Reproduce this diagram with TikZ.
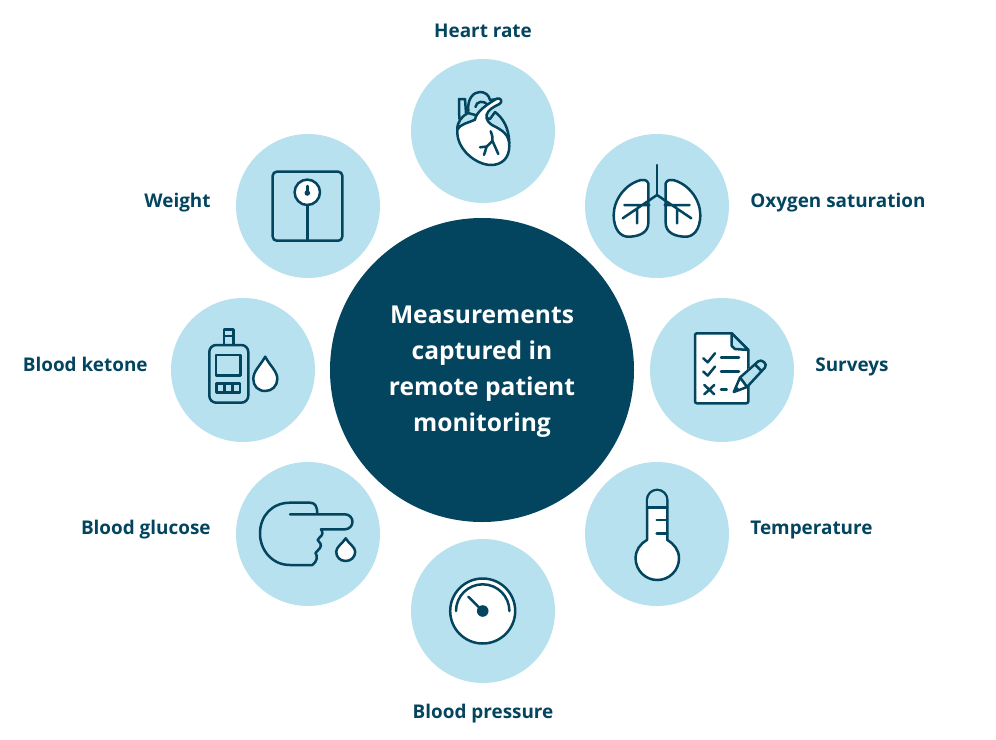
\documentclass[tikz,border=0pt]{standalone}
\usepackage{fontspec}
\setmainfont{Open Sans}
\usetikzlibrary{positioning}
\definecolor{deepteal}{HTML}{03455F}
\definecolor{paleblue}{HTML}{B7E1EE}
\tikzset{
  bubble/.style={circle,fill=paleblue,minimum size=144pt,inner sep=0pt},
  hub/.style={circle,fill=deepteal,minimum size=304pt,inner sep=0pt,align=center,text=white,font=\fontsize{24.6}{36}\selectfont\bfseries},
  tag/.style={inner sep=0pt,text=deepteal,text height=14pt,text depth=4pt,font=\fontsize{18.9}{24}\selectfont\bfseries},
  glyph/.style={draw=deepteal,line width=2.5pt,line join=round,line cap=round},
}
\begin{document}
\begin{tikzpicture}[x=1pt,y=-1pt]
\useasboundingbox (0,0) rectangle (996,739);
\node[hub]    (centre)  at (482,370) {\raisebox{-5pt}{\begin{tabular}{@{}c@{}}Measurements\\captured in\\remote patient\\monitoring\end{tabular}}};
\node[bubble] (heart)   at (483,131) {};
\node[bubble] (oxygen)  at (657,206) {};
\node[bubble] (surveys) at (722,370) {};
\node[bubble] (temp)    at (657,534) {};
\node[bubble] (press)   at (483,611) {};
\node[bubble] (glucose) at (308,534) {};
\node[bubble] (ketone)  at (243,370) {};
\node[bubble] (weight)  at (308,206) {};
\node[tag,above=17pt of heart]                (heartlab)   {Heart rate};
\node[tag,right=21pt of oxygen,yshift=4pt]    (oxygenlab)  {Oxygen saturation};
\node[tag,right=21pt of surveys,yshift=4pt]   (surveyslab) {Surveys};
\node[tag,right=21pt of temp,yshift=5pt]      (templab)    {Temperature};
\node[tag,below=21pt of press]                (presslab)   {Blood pressure};
\node[tag,left=25pt of glucose,yshift=5pt]    (glucoselab) {Blood glucose};
\node[tag,left=23pt of ketone,yshift=4pt]     (ketonelab)  {Blood ketone};
\node[tag,left=25pt of weight,yshift=4pt]     (weightlab)  {Weight};
% heart
\draw[glyph] (466,113) -- (465,99) -- (459,99) -- (459.3,119);
\draw[glyph] (468.3,111.3) .. controls (467,98) and (474,92) .. (480,92) .. controls (485,92) and (489,95) .. (490,100) -- (498,99);
\draw[glyph] (475.5,107) .. controls (476,101) and (484,100) .. (488,105);
\draw[glyph,fill=paleblue] (457.3,129.7) .. controls (457,122) and (462,116) .. (468,113) -- (490,119) -- (495,112) .. controls (503,118) and (509,128) .. (509.3,143) -- cycle;
\draw[glyph,fill=white] (457.3,129.7) .. controls (460,124) and (468,123) .. (475,119.7) .. controls (476,112) and (486,105) .. (496.7,98.7) .. controls (501,97) and (503,102) .. (499.5,104) .. controls (493,107) and (488,110) .. (486.5,115) .. controls (486,120) and (489,123) .. (492,125) .. controls (502,130) and (509.3,134) .. (509.3,146) .. controls (509.3,158) and (502,165) .. (491,165) .. controls (477,165) and (456,150) .. (457.3,129.7) -- cycle;
\draw[glyph] (490.7,131.3) .. controls (492,135) and (493,138) .. (492.5,141) (492.5,141) -- (486.7,146.5) -- (484,155) (486.7,146.5) -- (480,147.3) (492.5,141) -- (498.3,154);
% lungs
\foreach \flip in {1,-1}{
  \begin{scope}[xshift=657pt,xscale=\flip]
  \draw[glyph,fill=white] (-8.7,183.3) .. controls (-10,180) and (-13,179.5) .. (-16,180) .. controls (-32,184) and (-43.3,200) .. (-43.3,215) .. controls (-43.3,230) and (-36,236.7) .. (-29,236.7) .. controls (-17,236.7) and (-8.7,232) .. (-8.7,223) -- cycle;
  \draw[glyph] (0,195) -- (-34.3,218.3) (-32.7,205) -- (-7.7,205) (-20,208.3) -- (-20,223.3);
  \end{scope}
}
\draw[glyph] (657,165) -- (657,195);
% surveys
\draw[glyph,fill=white] (698,333.3) -- (731.7,333.3) -- (748.3,350) -- (748.3,400.3) [rounded corners=2pt] -- (748.3,403.3) -- (695,403.3) -- (695,333.3) -- cycle;
\draw[glyph,fill=paleblue] (731.7,333.3) -- (748.3,350) -- (735,349) -- (731.7,346) -- cycle;
\draw[glyph] (703.3,358.3) -- (707.7,362.3) -- (715,353.3) (703.3,371.6) -- (707.7,375.6) -- (715,366.6);
\draw[glyph] (704.3,385) -- (714.3,394.3) (714.3,385) -- (704.3,394.3);
\draw[glyph] (721,357.7) -- (739,357.7) (721,371.7) -- (739,371.7) (721,389.3) -- (726.7,389.3);
\fill[white] (748.3,368) rectangle (752,384);
\draw[glyph,fill=paleblue] (740,377.5) -- (758.3,361.3) .. controls (761.5,358.5) and (768,364) .. (765,367.5) -- (747,387) -- cycle;
\draw[glyph] (755,364.5) -- (761.5,371);
\draw[glyph,fill=white] (740,377.5) -- (733.8,392) -- (747,387) -- cycle;
\fill[deepteal] (733.3,392.7) -- (736,386) -- (740,390) -- cycle;
% thermometer
\draw[glyph,fill=white] (647,540) -- (647,500) arc (180:0:10.15pt) -- (667.3,540) .. controls (674,544) and (679,550) .. (679,558.3) arc (0:-180:21.7pt) .. controls (635.6,550) and (640,544) .. (647,540) -- cycle;
\fill[paleblue] (648.2,507.3) -- (648.2,500) arc (180:0:8.95pt) -- (666.1,507.3) -- cycle;
\draw[glyph] (647,507.3) -- (667.3,507.3) (656.7,520) -- (667.3,520) (656.7,533.3) -- (667.3,533.3);
% pressure gauge
\draw[glyph,fill=white] (482.7,611) circle (32.5pt);
\draw[glyph] (456,611) arc (180:0:26.7pt);
\fill[deepteal] (482.7,611) circle (5.8pt);
\draw[glyph] (482.7,611) -- (468.3,596.7);
% hand
\draw[glyph] (290,514.3) -- (345,514.3) arc (90:-90:7.5pt) -- (321,529.3) .. controls (323,532) and (323,535) .. (320,537) -- (317.7,540) .. controls (320,542) and (322,545) .. (320,548) -- (315.5,553) .. controls (318,556) and (317,562) .. (312.3,565) -- (290,565) .. controls (272,565) and (260,550) .. (260,533.5) .. controls (260,516) and (272,502.7) .. (290,502.7) -- (310,502.7) .. controls (315,502.7) and (317.3,506) .. (317.3,514.3);
\draw[glyph,fill=white] (345.7,538.3) .. controls (342,544) and (336.2,547) .. (336.2,551.7) .. controls (336.2,557) and (340,561) .. (345.7,561) .. controls (351,561) and (355.2,557) .. (355.2,551.7) .. controls (355.2,547) and (349,544) .. (345.7,538.3) -- cycle;
% meter
\draw[glyph] (224,345) rectangle (233.3,329.3) (224,336) -- (233.3,336);
\draw[glyph,rounded corners=7pt] (209.3,345) rectangle (248.3,402.7);
\draw[glyph] (216,355) rectangle (240.7,375.7);
\draw[glyph] (216.7,383.3) rectangle (240,392.3) (224.3,383.3) -- (224.3,392.3) (232.3,383.3) -- (232.3,392.3);
\draw[glyph,fill=white] (265.2,356.7) .. controls (260,366) and (253.3,371) .. (253.3,379) .. controls (253.3,386) and (258,391) .. (265.2,391) .. controls (272,391) and (277.3,386) .. (277.3,379) .. controls (277.3,371) and (270,366) .. (265.2,356.7) -- cycle;
% scale
\draw[glyph,rounded corners=4pt] (272.7,171.7) rectangle (342.3,240.7);
\draw[glyph,fill=white] (307.3,192.3) circle (12.7pt);
\draw[glyph] (307.3,205) -- (307.3,240.7) (307.3,186) -- (307.3,192);
\fill[deepteal] (307.3,193) circle (2.8pt);
\end{tikzpicture}
\end{document}
